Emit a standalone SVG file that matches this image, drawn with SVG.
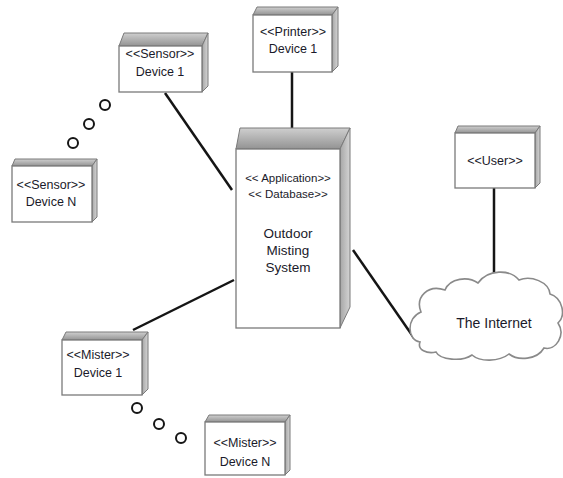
<svg xmlns="http://www.w3.org/2000/svg" width="563" height="478" viewBox="0 0 563 478">
<defs>
<linearGradient id="topg" x1="0" y1="0" x2="0" y2="1"><stop offset="0" stop-color="#cfcfcf"/><stop offset="1" stop-color="#939393"/></linearGradient>
<linearGradient id="sideg" x1="0" y1="0" x2="1" y2="0"><stop offset="0" stop-color="#a6a6a6"/><stop offset="1" stop-color="#d4d4d4"/></linearGradient>
</defs>
<style>
.front{fill:#fff;stroke:#7a7a7a;stroke-width:1.3}
.top{fill:url(#topg);stroke:#7a7a7a;stroke-width:1}
.side{fill:url(#sideg);stroke:#7a7a7a;stroke-width:1}
.t{font-family:"Liberation Sans",Arial,sans-serif;font-size:12.5px;fill:#1a1a2a;text-anchor:middle}
.s{font-size:11.5px}
.b{font-size:13.5px}
.i{font-size:14px}
.conn line{stroke:#151515;stroke-width:2.5}
.dots circle{fill:none;stroke:#151515;stroke-width:2}
.cloud{fill:#fff;stroke:#8a8a8a;stroke-width:1.6}
</style>
<rect width="563" height="478" fill="#fff"/>
<g class="conn">
<line x1="165" y1="93" x2="232" y2="190"/>
<line x1="292" y1="72" x2="292" y2="130"/>
<line x1="133" y1="330" x2="234" y2="280"/>
<line x1="353" y1="250" x2="414" y2="338"/>
<line x1="494" y1="188" x2="494" y2="273"/>
</g>
<g class="dots" id="sensorDots">
<circle cx="105" cy="105" r="5"/><circle cx="89" cy="124" r="5"/><circle cx="73" cy="143" r="5"/>
</g>
<g class="dots" id="misterDots">
<circle cx="137" cy="408" r="5"/><circle cx="159" cy="424" r="5"/><circle cx="181" cy="438" r="5"/>
</g>
<g id="sensor1">
<polygon class="top" points="119,46 124,33 208,33 202,46"/>
<polygon class="side" points="202,46 208,33 208,86 202,92"/>
<rect class="front" x="119" y="46" width="83" height="46"/>
<text class="t" x="160" y="58">&lt;&lt;Sensor&gt;&gt;</text>
<text class="t" x="160" y="76">Device 1</text>
</g>
<g id="printer">
<polygon class="top" points="253,15 257,7 338,7 332,15"/>
<polygon class="side" points="332,15 338,7 338,66 332,72"/>
<rect class="front" x="253" y="15" width="79" height="57"/>
<text class="t" x="293" y="36">&lt;&lt;Printer&gt;&gt;</text>
<text class="t" x="293" y="53">Device 1</text>
</g>
<g id="sensorN">
<polygon class="top" points="12,166 15,159 97,159 92,166"/>
<polygon class="side" points="92,166 97,159 97,217 92,222"/>
<rect class="front" x="12" y="166" width="80" height="56"/>
<text class="t" x="51" y="189">&lt;&lt;Sensor&gt;&gt;</text>
<text class="t" x="51" y="206">Device N</text>
</g>
<g id="app">
<polygon class="top" points="236,149 240,128 350,128 340,149"/>
<polygon class="side" points="340,149 350,128 350,307 340,328"/>
<rect class="front" x="236" y="149" width="104" height="179"/>
<text class="t s" x="288" y="182">&lt;&lt; Application&gt;&gt;</text>
<text class="t s" x="288" y="198">&lt;&lt; Database&gt;&gt;</text>
<text class="t b" x="288" y="238">Outdoor</text>
<text class="t b" x="288" y="255">Misting</text>
<text class="t b" x="288" y="272">System</text>
</g>
<g id="user">
<polygon class="top" points="455,133 458,126 540,126 535,133"/>
<polygon class="side" points="535,133 540,126 540,183 535,188"/>
<rect class="front" x="455" y="133" width="80" height="55"/>
<text class="t" x="495" y="165">&lt;&lt;User&gt;&gt;</text>
</g>
<g id="internet">
<path class="cloud" d="M420,342 C407,340 406,318 421,312 C415,297 428,284 445,290 C450,278 468,276 478,283 C488,269 510,269 519,280 C531,275 549,282 550,294 C563,298 566,316 558,323 C566,335 556,351 544,348 C537,360 518,361 509,354 C499,362 480,362 472,355 C462,362 440,360 436,352 C427,354 417,350 420,342 Z"/>
<text class="t i" x="494" y="328">The Internet</text>
</g>
<g id="mister1">
<polygon class="top" points="62,340 66,332 148,332 142,340"/>
<polygon class="side" points="142,340 148,332 148,389 142,395"/>
<rect class="front" x="62" y="340" width="80" height="55"/>
<text class="t" x="98" y="359">&lt;&lt;Mister&gt;&gt;</text>
<text class="t" x="98" y="377">Device 1</text>
</g>
<g id="misterN">
<polygon class="top" points="205,422 209,415 290,415 285,422"/>
<polygon class="side" points="285,422 290,415 290,470 285,475"/>
<rect class="front" x="205" y="422" width="80" height="53"/>
<text class="t" x="245" y="447">&lt;&lt;Mister&gt;&gt;</text>
<text class="t" x="245" y="466">Device N</text>
</g>
</svg>
